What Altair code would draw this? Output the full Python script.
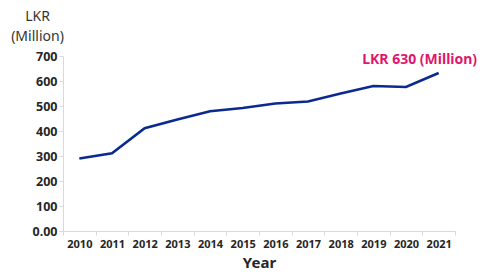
import altair as alt
import pandas as pd

years = ["2010", "2011", "2012", "2013", "2014", "2015", "2016", "2017", "2018", "2019", "2020", "2021"]
values = [290, 311, 411, 446, 479, 492, 510, 518, 550, 580, 576, 632]
y_ticks = [0, 100, 200, 300, 400, 500, 600, 700]
annotation = "LKR 630 (Million)"

df = pd.DataFrame({"Year": years, "Value": values})
ann = pd.DataFrame({"Year": [years[-1]], "Value": [values[-1]], "label": [annotation]})

FONT = "Noto Sans"
x = alt.X("Year:N", sort=years, scale=alt.Scale(paddingInner=0, paddingOuter=0),
          axis=alt.Axis(title="Year", labelAngle=0, labelFontSize=11, labelFontWeight="bold",
                        labelColor="#262626", titleFontSize=15, titleFontWeight="bold",
                        titleColor="#262626", titlePadding=6, domainColor="#d9d9d9",
                        tickColor="#d9d9d9", tickSize=4, tickBand="extent", labelPadding=3))
y = alt.Y("Value:Q", scale=alt.Scale(domain=[0, 700]),
          axis=alt.Axis(values=y_ticks, title=["LKR", "(Million)"],
                        labelExpr="datum.value == 0 ? '0.00' : datum.label",
                        labelOverlap=False,
                        labelFontSize=12.5, labelFontWeight="bold", labelColor="#262626",
                        titleAngle=0, titleAlign="center", titleBaseline="alphabetic",
                        titleX=-26, titleY=-36, titleFontSize=14, titleFontWeight="normal",
                        titleColor="#333333", titleLineHeight=20,
                        domainColor="#d9d9d9", tickColor="#d9d9d9", tickSize=4, grid=False,
                        labelPadding=2))

line = alt.Chart(df).mark_line(color="#0b2a8f", strokeWidth=2.6).encode(x=x, y=y)
text = alt.Chart(ann).mark_text(color="#e0166e", fontSize=14, fontWeight="bold", font=FONT,
                                 align="center", baseline="bottom", dx=-19, dy=-6).encode(
    x=x, y=y, text="label:N")

chart = (line + text).properties(
    width=392, height=175,
    autosize=alt.AutoSizeParams(type="none"),
    padding={"left": 55, "top": 48, "right": 29, "bottom": 40},
).configure(font=FONT).configure_view(strokeWidth=0, stroke="transparent")

chart.save("out.html", embed_options={"renderer": "svg", "actions": False})
